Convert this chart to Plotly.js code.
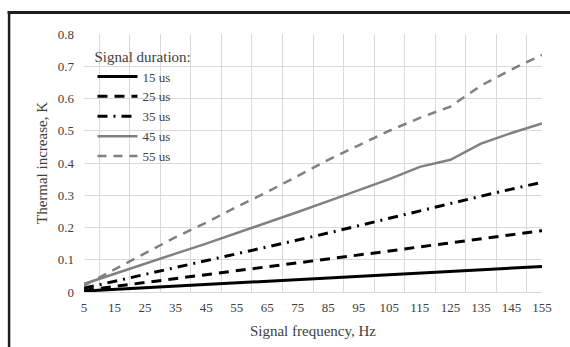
<!DOCTYPE html>
<html>
<head>
<meta charset="utf-8">
<script src="https://cdn.plot.ly/plotly-3.0.1.min.js"></script>
<style>
html,body{margin:0;padding:0;background:#fff;}
#chart{width:570px;height:347px;}
</style>
</head>
<body>
<div id="chart"></div>
<script>
// Data
const frequencies = ["5","15","25","35","45","55","65","75","85","95","105","115","125","135","145","155"];
const seriesNames = ["15 us","25 us","35 us","45 us","55 us"];
const us15 = [0.003,0.008,0.013,0.018,0.022,0.027,0.032,0.037,0.042,0.047,0.052,0.058,0.063,0.069,0.074,0.079];
const us25 = [0.005,0.017,0.029,0.041,0.053,0.065,0.077,0.089,0.101,0.114,0.127,0.140,0.152,0.165,0.178,0.190];
const us35 = [0.012,0.033,0.054,0.075,0.096,0.118,0.139,0.161,0.183,0.206,0.230,0.253,0.275,0.297,0.319,0.340];
const us45 = [0.025,0.057,0.088,0.119,0.150,0.182,0.215,0.248,0.282,0.317,0.350,0.388,0.410,0.460,0.493,0.523];
const us55 = [0.020,0.070,0.120,0.170,0.215,0.264,0.310,0.360,0.410,0.455,0.500,0.540,0.575,0.640,0.690,0.735];
const yTicks = [0,0.1,0.2,0.3,0.4,0.5,0.6,0.7,0.8];
const yTickText = ["0","0.1","0.2","0.3","0.4","0.5","0.6","0.7","0.8"];

const allValues = [us15, us25, us35, us45, us55];
const styles = [
  {color:"#000000", width:3, dash:"solid"},
  {color:"#000000", width:3, dash:"10px,7px"},
  {color:"#000000", width:3, dash:"10px,6px,2px,6px"},
  {color:"#808080", width:2.5, dash:"solid"},
  {color:"#808080", width:2.5, dash:"9px,7px"}
];

const traces = allValues.map((vals, i) => ({
  type: "scatter",
  mode: "lines",
  x: frequencies,
  y: vals,
  name: seriesNames[i],
  line: styles[i]
}));

const W = 570, H = 347;
const m = {l: 83.5, r: 28, t: 34, b: 55.3};
const pw = W - m.l - m.r, ph = H - m.t - m.b;
const px = v => (v - m.l) / pw;
const py = v => (H - m.b - v) / ph;

const textColor = "#404040";
const serif = "Liberation Serif, Times New Roman, serif";

const layout = {
  width: W, height: H,
  margin: m,
  paper_bgcolor: "#ffffff",
  plot_bgcolor: "rgba(0,0,0,0)",
  font: {family: serif, color: textColor, size: 13},
  showlegend: true,
  legend: {
    x: px(92), y: py(42), xanchor: "left", yanchor: "top",
    bgcolor: "rgba(0,0,0,0)",
    font: {family: serif, size: 13, color: textColor},
    title: {text: "Signal duration:", font: {family: serif, size: 15, color: textColor}},
    itemwidth: 40,
    tracegroupgap: 0
  },
  xaxis: {
    type: "category",
    tickson: "boundaries",
    showgrid: true,
    gridcolor: "#d9d9d9",
    gridwidth: 1,
    ticks: "",
    showline: false,
    zeroline: false,
    ticklabelstandoff: 6,
    tickfont: {family: serif, size: 13, color: textColor},
    title: {text: "Signal frequency, Hz", font: {family: serif, size: 15, color: textColor}, standoff: 11},
    fixedrange: true,
    automargin: false
  },
  yaxis: {
    range: [0, 0.8],
    tickvals: yTicks,
    ticktext: yTickText,
    showgrid: true,
    gridcolor: "#d9d9d9",
    gridwidth: 1,
    zeroline: true,
    zerolinecolor: "#d9d9d9",
    zerolinewidth: 1,
    ticks: "",
    showline: false,
    ticklabelstandoff: 9,
    tickfont: {family: serif, size: 13, color: textColor},
    title: {text: "Thermal increase, K", font: {family: serif, size: 15, color: textColor}, standoff: 6},
    fixedrange: true,
    automargin: false
  },
  shapes: [
    {type: "line", xref: "paper", yref: "paper", x0: px(7), x1: px(572), y0: py(12.5), y1: py(12.5),
     line: {color: "#1e1e1e", width: 3}},
    {type: "line", xref: "paper", yref: "paper", x0: px(8.5), x1: px(8.5), y0: py(11), y1: py(350),
     line: {color: "#1e1e1e", width: 2.5}}
  ]
};

Plotly.newPlot("chart", traces, layout, {staticPlot: true, displayModeBar: false});
</script>
</body>
</html>
